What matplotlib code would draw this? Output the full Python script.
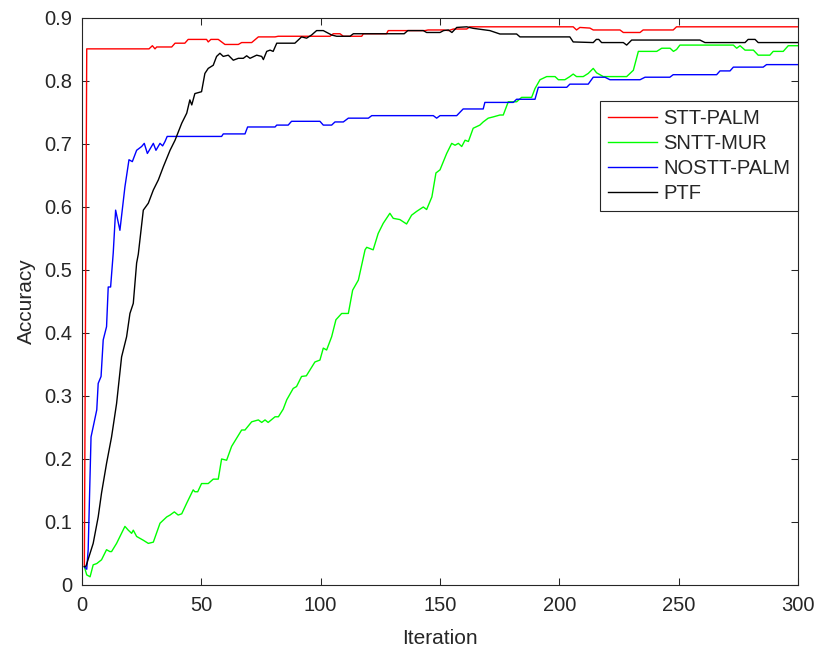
import matplotlib
matplotlib.use("Agg")
import matplotlib.pyplot as plt

# Valeurs (itération, précision)
stt_palm_x = [1, 2, 28.1, 29.5, 30.6, 31.3, 37.6, 39.0, 43.1, 44.5, 52.2, 52.9, 54.0, 57.1,
              59.9, 65.5, 66.9, 71.1, 73.9, 80.9, 82.2, 103.9, 105.3, 108.1, 109.5, 117.2,
              117.9, 127.6, 128.3, 143.7, 145.0, 151.4, 153.5, 155.6, 161.2, 162.5, 205.8,
              207.2, 208.6, 212.8, 214.2, 225.4, 226.8, 233.8, 235.1, 247.7, 249.1, 300]
stt_palm_y = [0.03, 0.851, 0.851, 0.856, 0.851, 0.854, 0.854, 0.860, 0.860, 0.866, 0.866,
              0.862, 0.866, 0.866, 0.858, 0.858, 0.861, 0.861, 0.870, 0.870, 0.871, 0.871,
              0.875, 0.875, 0.871, 0.871, 0.875, 0.875, 0.880, 0.880, 0.881, 0.881, 0.880,
              0.8825, 0.8825, 0.886, 0.886, 0.881, 0.885, 0.884, 0.881, 0.881, 0.877, 0.877,
              0.881, 0.881, 0.886, 0.886]

sntt_mur_x = [1, 2.0, 3.4, 4.7, 6.2, 8.2, 10.3, 11.7, 12.4, 14.5, 18.0, 19.4, 20.8, 21.5,
              22.9, 25.7, 27.8, 29.9, 32.7, 35.5, 36.9, 38.7, 40.3, 41.8, 43.9, 46.6, 47.3,
              48.5, 50.1, 52.9, 55.0, 57.1, 58.5, 60.6, 62.7, 66.9, 68.3, 71.1, 73.9, 75.3,
              76.7, 78.0, 80.9, 82.3, 84.3, 85.8, 88.5, 89.9, 92.0, 94.0, 97.6, 99.7, 101.1,
              102.5, 104.6, 106.4, 108.8, 111.6, 113.4, 115.8, 117.2, 118.6, 119.3, 122.0,
              124.1, 126.2, 129.0, 130.4, 133.2, 136.0, 138.1, 140.2, 143.0, 144.4, 146.6,
              148.3, 150.0, 152.8, 154.9, 156.3, 157.7, 159.1, 160.5, 161.9, 163.9, 166.7,
              168.1, 170.2, 172.3, 175.1, 176.5, 178.6, 182.1, 184.2, 188.4, 189.8, 191.9,
              194.7, 198.2, 199.6, 202.3, 204.4, 205.8, 207.2, 210.0, 212.1, 214.2, 215.6,
              218.4, 228.2, 231.0, 233.1, 240.8, 242.9, 246.4, 247.8, 249.1, 250.5, 272.9,
              274.3, 275.7, 277.8, 281.3, 283.3, 288.2, 289.6, 293.8, 295.9, 300]
sntt_mur_y = [0.029, 0.016, 0.013, 0.032, 0.034, 0.040, 0.056, 0.053, 0.053, 0.066, 0.093,
              0.087, 0.082, 0.087, 0.077, 0.071, 0.066, 0.068, 0.098, 0.108, 0.111, 0.116,
              0.111, 0.113, 0.130, 0.151, 0.148, 0.148, 0.161, 0.161, 0.168, 0.168, 0.200,
              0.198, 0.220, 0.246, 0.246, 0.259, 0.262, 0.258, 0.262, 0.258, 0.267, 0.267,
              0.279, 0.294, 0.312, 0.315, 0.331, 0.332, 0.354, 0.357, 0.376, 0.373, 0.394,
              0.421, 0.431, 0.431, 0.468, 0.484, 0.508, 0.532, 0.536, 0.532, 0.558, 0.574,
              0.590, 0.582, 0.580, 0.573, 0.587, 0.593, 0.600, 0.596, 0.616, 0.654, 0.659,
              0.685, 0.701, 0.698, 0.701, 0.696, 0.706, 0.704, 0.725, 0.730, 0.735, 0.741,
              0.743, 0.746, 0.746, 0.767, 0.767, 0.774, 0.774, 0.788, 0.802, 0.807, 0.807,
              0.802, 0.802, 0.807, 0.811, 0.807, 0.807, 0.812, 0.820, 0.813, 0.807, 0.807,
              0.817, 0.847, 0.847, 0.852, 0.852, 0.847, 0.850, 0.857, 0.857, 0.852, 0.856,
              0.849, 0.849, 0.841, 0.841, 0.847, 0.847, 0.856, 0.856]

nostt_palm_x = [1, 2, 2.6, 3.8, 4.7, 6.2, 6.8, 8.0, 8.9, 10.3, 11.0, 12.0, 13.1, 14.1, 15.9,
                18.0, 19.7, 21.1, 22.9, 25.0, 26.1, 27.4, 28.5, 29.9, 31.0, 32.7, 33.8, 34.8,
                35.7, 58.5, 59.2, 68.3, 69.4, 80.9, 81.6, 86.4, 87.8, 99.7, 101.1, 104.6,
                106.0, 109.5, 111.6, 120.0, 121.4, 147.2, 148.6, 150.0, 157.0, 159.7, 168.1,
                168.8, 180.7, 182.1, 189.8, 191.2, 203.1, 204.4, 212.1, 214.2, 219.1, 221.2,
                233.8, 235.9, 246.3, 247.7, 265.9, 267.3, 271.5, 272.9, 285.4, 286.8, 300]
nostt_palm_y = [0.029, 0.025, 0.056, 0.235, 0.251, 0.278, 0.320, 0.331, 0.389, 0.410, 0.473,
                0.473, 0.527, 0.595, 0.563, 0.632, 0.675, 0.672, 0.690, 0.696, 0.701, 0.685,
                0.692, 0.701, 0.690, 0.701, 0.697, 0.704, 0.712, 0.712, 0.716, 0.716, 0.727,
                0.727, 0.730, 0.730, 0.736, 0.736, 0.730, 0.730, 0.735, 0.735, 0.741, 0.741,
                0.745, 0.745, 0.741, 0.745, 0.745, 0.7556, 0.7556, 0.766, 0.766, 0.771, 0.771,
                0.790, 0.790, 0.795, 0.795, 0.806, 0.806, 0.802, 0.802, 0.806, 0.806, 0.810,
                0.810, 0.816, 0.816, 0.822, 0.822, 0.826, 0.826]

ptf_x = [1, 1.7, 4.7, 6.8, 8.2, 10.3, 12.4, 14.5, 16.6, 18.7, 20.1, 21.5, 22.9, 23.6, 25.7,
         27.8, 29.9, 32.0, 34.1, 36.9, 39.0, 41.8, 43.9, 45.2, 46.0, 47.3, 50.1, 51.5, 52.9,
         55.0, 56.4, 57.8, 59.2, 61.3, 63.4, 65.5, 67.6, 69.0, 70.4, 73.2, 75.3, 76.0, 77.4,
         78.8, 80.1, 81.6, 89.2, 92.0, 94.1, 96.2, 98.3, 101.1, 104.6, 106.7, 112.3, 113.7,
         135.0, 136.5, 143.0, 144.4, 150.0, 151.5, 153.5, 155.0, 157.0, 161.2, 163.9, 170.9,
         175.1, 182.1, 183.5, 204.4, 205.8, 214.2, 215.5, 216.5, 217.7, 226.8, 228.2, 230.3,
         258.9, 261.0, 277.8, 279.1, 282.0, 283.3, 300]
ptf_y = [0.029, 0.030, 0.066, 0.108, 0.146, 0.193, 0.235, 0.288, 0.362, 0.394, 0.431, 0.447,
         0.511, 0.525, 0.595, 0.606, 0.627, 0.643, 0.664, 0.690, 0.706, 0.733, 0.749, 0.770,
         0.762, 0.780, 0.783, 0.812, 0.820, 0.825, 0.839, 0.844, 0.839, 0.841, 0.833, 0.836,
         0.836, 0.840, 0.836, 0.841, 0.839, 0.834, 0.847, 0.849, 0.847, 0.860, 0.860, 0.870,
         0.868, 0.873, 0.880, 0.880, 0.873, 0.871, 0.871, 0.875, 0.875, 0.880, 0.880, 0.877,
         0.877, 0.880, 0.881, 0.877, 0.885, 0.886, 0.8836, 0.880, 0.8746, 0.8746, 0.870,
         0.870, 0.862, 0.861, 0.866, 0.866, 0.861, 0.861, 0.857, 0.865, 0.865, 0.861, 0.861,
         0.866, 0.866, 0.861, 0.861]

x_ticks = [0, 50, 100, 150, 200, 250, 300]
y_ticks = [0, 0.1, 0.2, 0.3, 0.4, 0.5, 0.6, 0.7, 0.8, 0.9]

gris = "#262626"
plt.rcParams["font.family"] = ["Liberation Sans", "DejaVu Sans"]

fig = plt.figure(figsize=(8.18, 6.52), dpi=100)
ax = fig.add_axes([0.1002, 0.1028, 0.8754, 0.8696])

ax.plot(stt_palm_x, stt_palm_y, color="#ff0000", lw=1.0, label="STT-PALM")
ax.plot(sntt_mur_x, sntt_mur_y, color="#00ff00", lw=1.0, label="SNTT-MUR")
ax.plot(nostt_palm_x, nostt_palm_y, color="#0000ff", lw=1.0, label="NOSTT-PALM")
ax.plot(ptf_x, ptf_y, color="black", lw=1.0, label="PTF")

ax.set_xlim(0, 300)
ax.set_ylim(0, 0.9)
ax.set_xticks(x_ticks)
ax.set_yticks(y_ticks)
ax.set_xticklabels([str(v) for v in x_ticks])
ax.set_yticklabels(["0"] + [f"{v:.1f}" for v in y_ticks[1:]])
ax.tick_params(direction="in", top=True, right=True, length=5, width=0.75,
               color=gris, labelcolor=gris, labelsize=14.5)
ax.tick_params(axis="y", pad=7)
ax.tick_params(axis="x", pad=8)
for s in ax.spines.values():
    s.set_color(gris)
    s.set_linewidth(0.8)

ax.set_xlabel("Iteration", fontsize=15, color=gris, labelpad=10)
ax.set_ylabel("Accuracy", fontsize=15, color=gris, labelpad=6)

leg = ax.legend(loc="upper right", bbox_to_anchor=(1.0, 0.854), fontsize=14.5,
                frameon=True, fancybox=False, framealpha=1, edgecolor=gris,
                handlelength=2.45, handletextpad=0.3, labelspacing=0.3,
                borderpad=0.4, borderaxespad=0)
leg.get_frame().set_linewidth(0.8)
for t in leg.get_texts():
    t.set_color(gris)

fig.savefig("out.png", dpi=100)
